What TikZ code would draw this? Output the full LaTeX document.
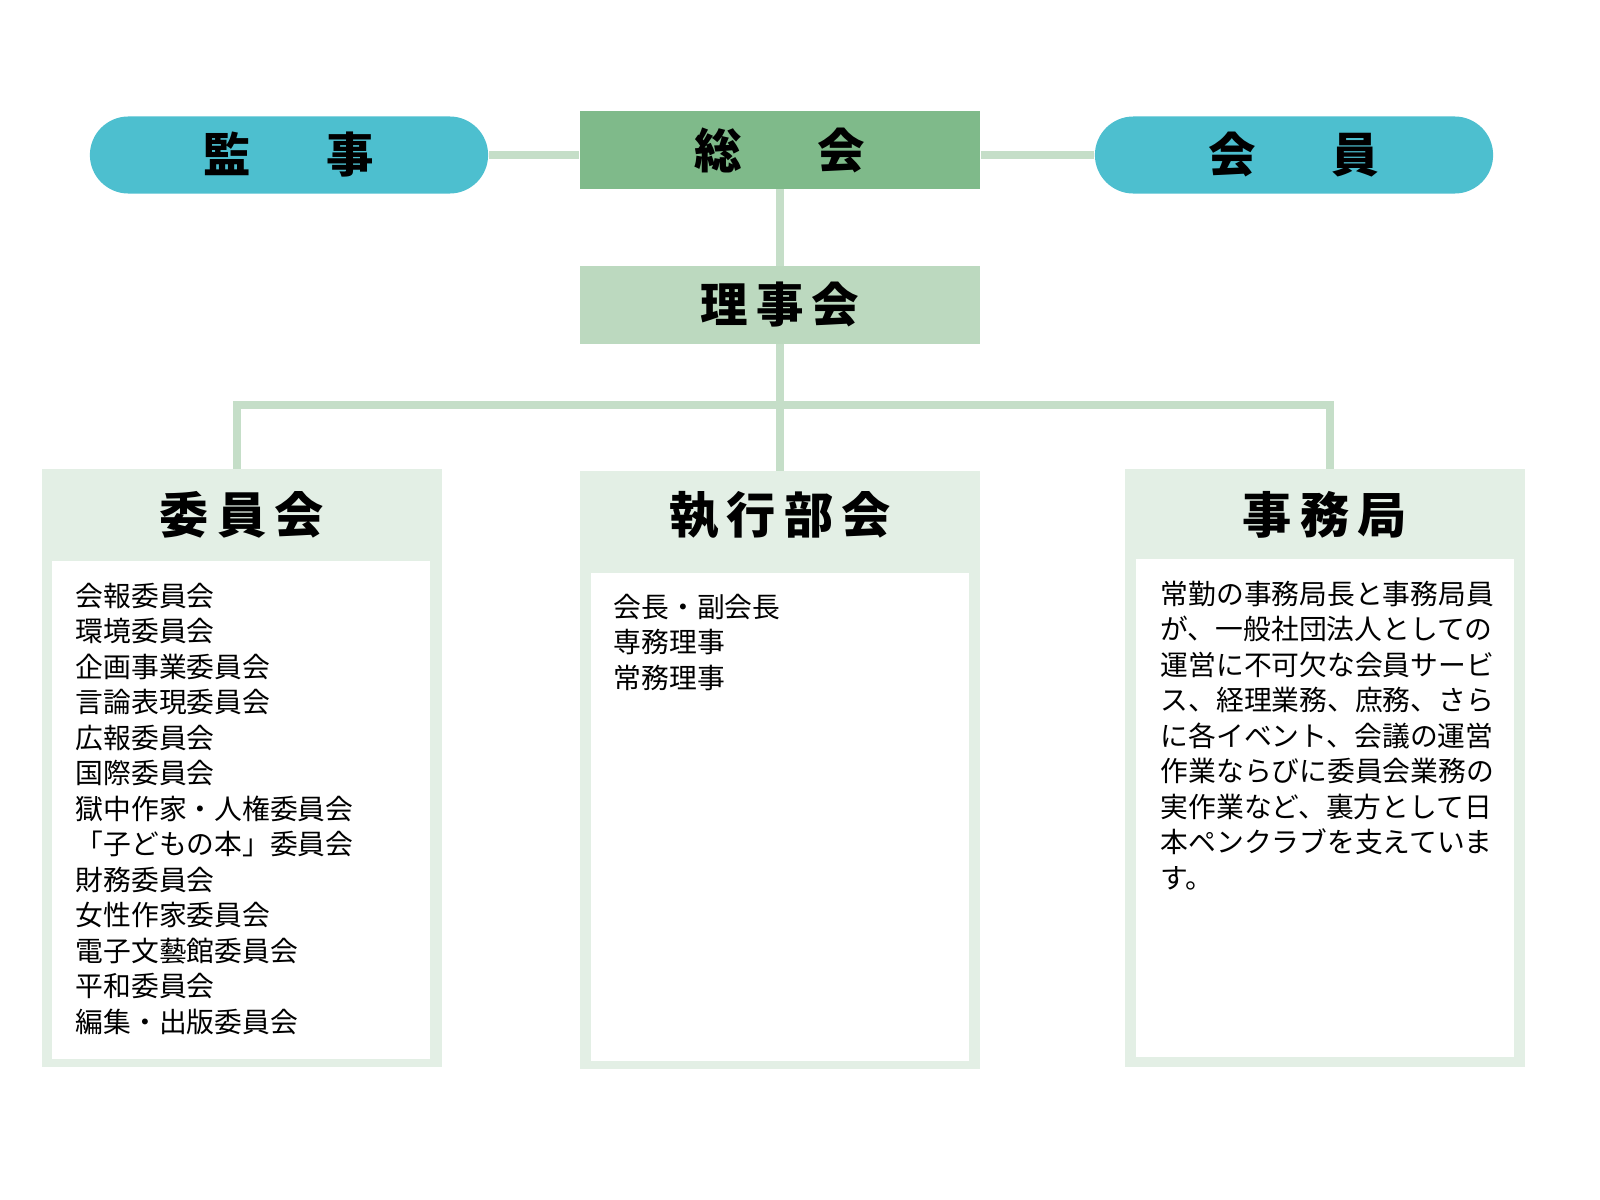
\documentclass[tikz,border=0pt]{standalone}
\usepackage{fontspec}
\newfontfamily\cjk{Noto Sans CJK JP}
\usetikzlibrary{positioning}
\definecolor{pillblue}{HTML}{4DBFCF}
\definecolor{topgreen}{HTML}{7FBA8A}
\definecolor{midgreen}{HTML}{BCD9BF}
\definecolor{panelgreen}{HTML}{E3EFE5}
\definecolor{linkgreen}{HTML}{C5DEC8}
\begin{document}
\begin{tikzpicture}[x=0.01cm, y=-0.01cm, font=\cjk,
		pill/.style = {rounded corners=0.385cm, fill=pillblue, minimum width=3.98cm, minimum height=0.77cm, font=\cjk\bfseries\fontsize{13.5pt}{15pt}\selectfont},
		topbox/.style = {fill=#1, minimum width=4cm, minimum height=0.77cm, font=\cjk\bfseries\fontsize{13.5pt}{15pt}\selectfont},
		panel/.style = {fill=panelgreen, minimum width=4cm, minimum height=5.97cm},
		inner/.style = {fill=white, minimum width=3.78cm, anchor=north},
		title/.style = {font=\cjk\bfseries\fontsize{14pt}{16pt}\selectfont},
		list/.style = {anchor=north west, align=left, inner sep=0pt, font=\cjk\fontsize{7.9pt}{10.1pt}\selectfont},
		link/.style = {draw=linkgreen, line width=0.08cm}]
	\useasboundingbox (0,0) rectangle (1600,1200);

	% top row
	\node (kanji) [pill] at (289, 155) {監\hspace{1.6em}事};
	\node (sokai) [topbox=topgreen] at (780, 150) {総\hspace{1.6em}会};
	\node (kaiin) [pill] at (1294, 155) {会\hspace{1.6em}員};
	\node (rijikai) [topbox=midgreen] at (780, 305) {理\,事\,会};

	% panels
	\node (iinkai) [panel] at (242, 768) {};
	\node (shikko) [panel] at (780, 770) {};
	\node (jimukyoku) [panel] at (1325, 768) {};
	\node (iinkaiin) [inner, minimum height=4.98cm] at (241, 560) {};
	\node (shikkoin) [inner, minimum height=4.88cm] at (780, 572) {};
	\node (jimuin) [inner, minimum height=4.98cm] at (1325, 558) {};
	\node [title] at (242, 515) {委\,員\,会};
	\node [title] at (780, 515) {執\,行\,部\,会};
	\node [title] at (1325, 515) {事\,務\,局};

	% connectors
	\coordinate (bar) at (780, 405);
	\draw [link] (kanji.east) -- (kanji.east -| sokai.west);
	\draw [link] (kaiin.west -| sokai.east) -- (kaiin.west);
	\draw [link] (sokai.south) -- (rijikai.north);
	\draw [link] (rijikai.south) -- (shikko.north);
	\draw [link] (iinkai.north -| 237, 0) |- (bar) -| (jimukyoku.north -| 1330, 0);

	% lists
	\node [list] at (75, 582) {会報委員会\\環境委員会\\企画事業委員会\\言論表現委員会\\広報委員会\\国際委員会\\獄中作家・人権委員会\\「子どもの本」委員会\\財務委員会\\女性作家委員会\\電子文藝館委員会\\平和委員会\\編集・出版委員会};
	\node [list] at (613, 593) {会長・副会長\\専務理事\\常務理事};
	\node [list] at (1160, 580) {常勤の事務局長と事務局員\\が、一般社団法人としての\\運営に不可欠な会員サービ\\ス、経理業務、庶務、さら\\に各イベント、会議の運営\\作業ならびに委員会業務の\\実作業など、裏方として日\\本ペンクラブを支えていま\\す。};
\end{tikzpicture}
\end{document}
